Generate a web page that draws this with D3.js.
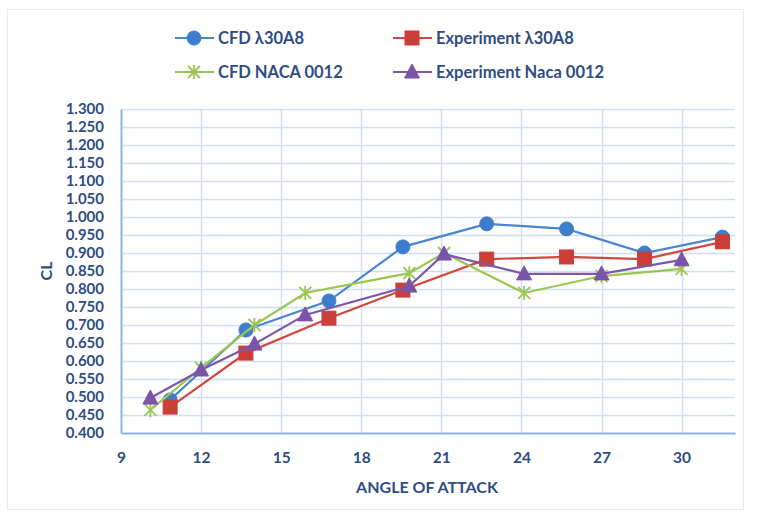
<!DOCTYPE html>
<html><head><meta charset="utf-8">
<script src="https://cdn.jsdelivr.net/npm/d3@7"></script>
<style>
html,body{margin:0;padding:0;background:#fff;}
svg{display:block;font-family:Lato,"Open Sans",sans-serif;}
</style></head>
<body>
<svg id="chart" width="757" height="516"></svg>
<script>
// ---- data ----
const seriesNames = ["CFD λ30A8", "Experiment λ30A8", "CFD NACA 0012", "Experiment Naca 0012"];
const cfdL30A8_x = [10.84, 13.68, 16.79, 19.56, 22.70, 25.69, 28.61, 31.53];
const cfdL30A8_y = [0.492, 0.686, 0.767, 0.917, 0.981, 0.967, 0.900, 0.944];
const expL30A8_x = [10.84, 13.68, 16.79, 19.56, 22.70, 25.69, 28.61, 31.53];
const expL30A8_y = [0.472, 0.622, 0.719, 0.797, 0.883, 0.889, 0.883, 0.931];
const cfdNaca_x = [10.1, 12.0, 14.0, 15.9, 19.8, 21.1, 24.1, 27.0, 30.0];
const cfdNaca_y = [0.464, 0.581, 0.700, 0.789, 0.844, 0.900, 0.789, 0.836, 0.856];
const expNaca_x = [10.1, 12.0, 14.0, 15.9, 19.8, 21.1, 24.1, 27.0, 30.0];
const expNaca_y = [0.497, 0.575, 0.647, 0.728, 0.808, 0.897, 0.842, 0.842, 0.881];
const xTicks = [9, 12, 15, 18, 21, 24, 27, 30];
const yTicks = [0.4,0.45,0.5,0.55,0.6,0.65,0.7,0.75,0.8,0.85,0.9,0.95,1.0,1.05,1.1,1.15,1.2,1.25,1.3];
const xTitle = "ANGLE OF ATTACK";
const yTitle = "CL";

// ---- styles ----
const colors = ["#4a86cf", "#d2473f", "#9cc654", "#7d58aa"];
const markerFill = ["#3d7dcc", "#cc3f38", "#9cc654", "#7b54a8"];
const shapes = ["circle", "square", "star", "triangle"];
const textColor = "#2f4d84";

const svg = d3.select("#chart");
const L = 121, R = 735, T = 109, B = 433;
const x = d3.scaleLinear().domain([9, 32]).range([L, R]);
const y = d3.scaleLinear().domain([0.4, 1.3]).range([B, T]);

// chart border
svg.append("rect").attr("x", 7.5).attr("y", 9.5).attr("width", 736).attr("height", 500)
  .attr("fill", "none").attr("stroke", "#e8edf4").attr("stroke-width", 1);

// gridlines
const grid = svg.append("g");
grid.selectAll("line.h").data(yTicks.slice(1)).join("line")
  .attr("x1", L).attr("x2", R).attr("y1", d => Math.round(y(d)) + 0.5).attr("y2", d => Math.round(y(d)) + 0.5)
  .attr("stroke", "#cfe0f4").attr("stroke-width", 1.5);
grid.selectAll("line.v").data(xTicks.slice(1)).join("line")
  .attr("y1", T).attr("y2", B).attr("x1", d => Math.round(x(d)) + 0.5).attr("x2", d => Math.round(x(d)) + 0.5)
  .attr("stroke", "#cfe0f4").attr("stroke-width", 1.5);

// axes
const xAxis = d3.axisBottom(x).tickValues(xTicks).tickSize(0).tickPadding(19).tickFormat(d3.format("d"));
const gx = svg.append("g").attr("transform", `translate(0,${B})`).call(xAxis);
gx.select(".domain").attr("stroke", "#8db3e2").attr("stroke-width", 2);
gx.selectAll("text").attr("fill", textColor).attr("font-size", 15.5).attr("font-weight", 700)
  .attr("font-family", "Lato, 'Open Sans', sans-serif");

const yAxis = d3.axisLeft(y).tickValues(yTicks).tickSize(0).tickPadding(17).tickFormat(d3.format(".3f"));
const gy = svg.append("g").attr("transform", `translate(${L},0)`).call(yAxis);
gy.select(".domain").attr("stroke", "#8db3e2").attr("stroke-width", 2);
gy.selectAll("text").attr("fill", textColor).attr("font-size", 15).attr("font-weight", 700)
  .attr("font-family", "Lato, 'Open Sans', sans-serif");

// titles
svg.append("text").attr("x", (L + R) / 2 - 1).attr("y", 493).attr("text-anchor", "middle")
  .attr("fill", textColor).attr("font-size", 16).attr("font-weight", 700).text(xTitle);
svg.append("text").attr("transform", `translate(52,${(T + B) / 2}) rotate(-90)`).attr("text-anchor", "middle")
  .attr("fill", textColor).attr("font-size", 16).attr("font-weight", 700).text(yTitle);

// markers
function drawMarker(g, shape, cx, cy, i) {
  if (shape === "circle") {
    g.append("circle").attr("cx", cx).attr("cy", cy).attr("r", 7).attr("fill", markerFill[i]).attr("stroke", markerFill[i]);
  } else if (shape === "square") {
    g.append("rect").attr("x", cx - 7).attr("y", cy - 7).attr("width", 14).attr("height", 14)
      .attr("fill", markerFill[i]).attr("stroke", markerFill[i]);
  } else if (shape === "triangle") {
    g.append("path").attr("d", `M${cx},${cy - 8} L${cx + 7.5},${cy + 6} L${cx - 7.5},${cy + 6} Z`)
      .attr("fill", markerFill[i]).attr("stroke", markerFill[i]);
  } else if (shape === "star") {
    const s = 6;
    g.append("path").attr("d",
      `M${cx - s},${cy - s} L${cx + s},${cy + s} M${cx - s},${cy + s} L${cx + s},${cy - s} M${cx},${cy - s - 1} L${cx},${cy + s + 1}`)
      .attr("stroke", markerFill[i]).attr("stroke-width", 1.8).attr("fill", "none");
  }
}

const allSeries = [
  [cfdL30A8_x, cfdL30A8_y],
  [expL30A8_x, expL30A8_y],
  [cfdNaca_x, cfdNaca_y],
  [expNaca_x, expNaca_y]
];
const line = d3.line().x(d => x(d[0])).y(d => y(d[1]));
allSeries.forEach((s, i) => {
  const pts = s[0].map((v, k) => [v, s[1][k]]);
  const g = svg.append("g");
  g.append("path").attr("d", line(pts)).attr("fill", "none").attr("stroke", colors[i]).attr("stroke-width", 2.2);
  pts.forEach(p => drawMarker(g, shapes[i], x(p[0]), y(p[1]), i));
});

// legend
const legendPos = [[175, 38], [393, 38], [175, 72], [393, 72]];
seriesNames.forEach((name, i) => {
  const [lx, ly] = legendPos[i];
  const g = svg.append("g");
  g.append("line").attr("x1", lx).attr("x2", lx + 39).attr("y1", ly).attr("y2", ly)
    .attr("stroke", colors[i]).attr("stroke-width", 2);
  drawMarker(g, shapes[i], lx + 19, ly, i);
  g.append("text").attr("x", lx + 43).attr("y", ly + 6).attr("fill", textColor)
    .attr("font-size", 16.5).attr("font-weight", 700).text(name);
});
</script>
</body></html>
